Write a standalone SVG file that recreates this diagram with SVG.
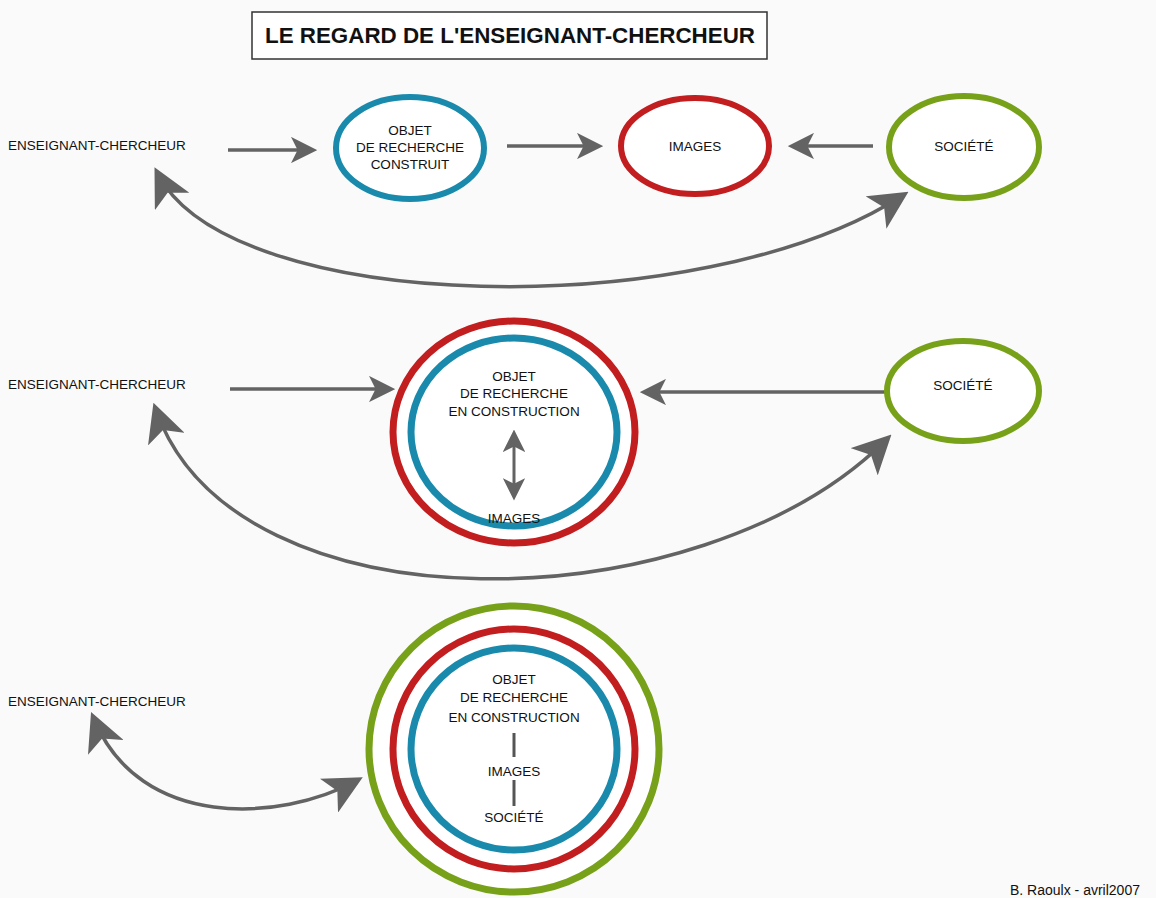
<svg xmlns="http://www.w3.org/2000/svg" width="1156" height="898" viewBox="0 0 1156 898">
<style>
.bg{fill:#fafafa}
.lbl{font-family:"Liberation Sans",Arial,sans-serif;font-size:13.5px;fill:#111;text-anchor:middle}
.lft{text-anchor:start}
.blue{fill:#fff;stroke:#1a8aac;stroke-width:6}
.red{fill:#fff;stroke:#c21d1f;stroke-width:6}
.green{fill:#fff;stroke:#78a11a;stroke-width:6}
.big{stroke-width:7}
.arr{fill:none;stroke:#636363;stroke-width:3.5;marker-end:url(#ah)}
.arr2{fill:none;stroke:#636363;stroke-width:3.5;marker-start:url(#ahb);marker-end:url(#ahb)}
.tick{stroke:#555;stroke-width:3}
</style>
<defs>
<marker id="ah" viewBox="0 0 10 10" refX="8" refY="5" markerWidth="7.5" markerHeight="7.5" orient="auto-start-reverse" markerUnits="strokeWidth">
<path d="M0,0 L10,5 L0,10 L2.5,5 z" fill="#636363"/>
</marker>
<marker id="ahb" viewBox="0 0 10 10" refX="8" refY="5" markerWidth="11" markerHeight="11" orient="auto-start-reverse" markerUnits="strokeWidth">
<path d="M0,0 L10,5 L0,10 L2.5,5 z" fill="#636363"/>
</marker>
</defs>
<rect class="bg" x="0" y="0" width="1156" height="898"/>
<g id="title">
<rect x="252" y="12" width="515" height="47" fill="#fff" stroke="#333" stroke-width="1.5"/>
<text x="510" y="43" font-family="Liberation Sans,Arial,sans-serif" font-weight="bold" font-size="22" fill="#111" text-anchor="middle" textLength="490" lengthAdjust="spacingAndGlyphs">LE REGARD DE L'ENSEIGNANT-CHERCHEUR</text>
</g>
<g id="connectors">
<path class="arr" d="M228,150 L312,150"/>
<path class="arr" d="M507,146 L598,146"/>
<path class="arr" d="M873,146 L793,146"/>
<path class="arr2" d="M158,174 C230,315 700,325 902,196"/>
<path class="arr" d="M230,389 L390,389"/>
<path class="arr" d="M886,392 L645,392"/>
<path class="arr2" d="M156,410 C235,635 700,625 886,440"/>
<path class="arr2" d="M94,719 C140,830 280,822 356,781"/>
</g>
<g id="row1-enseignant"><text class="lbl lft" x="8" y="150">ENSEIGNANT-CHERCHEUR</text></g>
<g id="row1-objet">
<ellipse class="blue" cx="410" cy="148" rx="74" ry="51"/>
<text class="lbl" x="410" y="135">OBJET</text>
<text class="lbl" x="410" y="152">DE RECHERCHE</text>
<text class="lbl" x="410" y="169">CONSTRUIT</text>
</g>
<g id="row1-images">
<ellipse class="red" cx="695" cy="146" rx="74" ry="48"/>
<text class="lbl" x="695" y="151">IMAGES</text>
</g>
<g id="row1-societe">
<ellipse class="green" cx="964" cy="147" rx="75" ry="51"/>
<text class="lbl" x="964" y="151">SOCIÉTÉ</text>
</g>
<g id="row2-enseignant"><text class="lbl lft" x="8" y="389">ENSEIGNANT-CHERCHEUR</text></g>
<g id="row2-objet">
<ellipse class="red big" cx="514" cy="432" rx="121" ry="111"/>
<ellipse class="blue big" cx="514" cy="432" rx="103" ry="94"/>
<text class="lbl" x="514" y="381">OBJET</text>
<text class="lbl" x="514" y="398">DE RECHERCHE</text>
<text class="lbl" x="514" y="416">EN CONSTRUCTION</text>
<path class="arr" style="stroke-width:3;marker-start:url(#ah)" d="M514,434 L514,496"/>
<text class="lbl" x="514" y="523">IMAGES</text>
</g>
<g id="row2-societe">
<ellipse class="green" cx="963" cy="391" rx="76" ry="50"/>
<text class="lbl" x="963" y="390">SOCIÉTÉ</text>
</g>
<g id="row3-enseignant"><text class="lbl lft" x="8" y="706">ENSEIGNANT-CHERCHEUR</text></g>
<g id="row3-objet">
<ellipse class="green big" cx="514" cy="749" rx="145" ry="143"/>
<ellipse class="red big" cx="514" cy="749" rx="121" ry="120"/>
<ellipse class="blue big" cx="514" cy="749" rx="103" ry="101"/>
<text class="lbl" x="514" y="684">OBJET</text>
<text class="lbl" x="514" y="702">DE RECHERCHE</text>
<text class="lbl" x="514" y="722">EN CONSTRUCTION</text>
<line class="tick" x1="514" y1="733" x2="514" y2="757"/>
<text class="lbl" x="514" y="776">IMAGES</text>
<line class="tick" x1="514" y1="780" x2="514" y2="806"/>
<text class="lbl" x="514" y="822">SOCIÉTÉ</text>
</g>
<g id="footer"><text class="lbl lft" style="font-size:14px" x="1010" y="895">B. Raoulx - avril2007</text></g>
</svg>
